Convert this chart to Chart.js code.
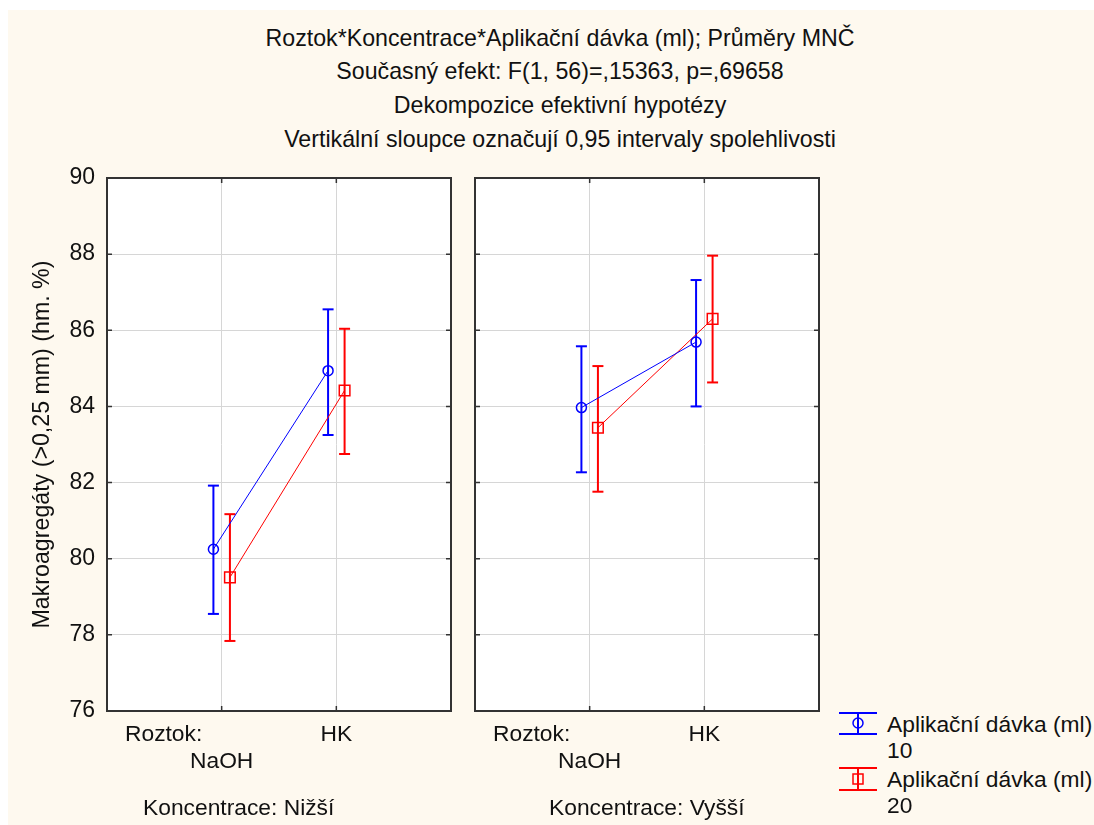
<!DOCTYPE html>
<html>
<head>
<meta charset="utf-8">
<script src="https://cdn.jsdelivr.net/npm/chart.js@4.4.1/dist/chart.umd.min.js"></script>
<style>
  body { margin: 0; width: 1094px; height: 825px; background: #fff; overflow: hidden;
         font-family: "Liberation Sans", Arial, sans-serif; color: #111; }
  #bg { position: absolute; left: 8px; top: 10px; right: 0; bottom: 0; background: #fef9ef; }
  canvas { position: absolute; top: 0; }
  #panel1 { left: 0; }
  #panel2 { left: 460px; }
  .txt { position: absolute; white-space: nowrap; line-height: 1; }
  .title { font-size: 23.2px; left: 0; width: 1120px; text-align: center; }
  .lab { font-size: 22.8px; }
  .leg { position: absolute; left: 838px; }
</style>
</head>
<body>
<div id="bg"></div>

<!-- nadpis -->
<div class="txt title" style="top:27px">Roztok*Koncentrace*Aplikační dávka (ml); Průměry MNČ</div>
<div class="txt title" style="top:60px">Současný efekt: F(1, 56)=,15363, p=,69658</div>
<div class="txt title" style="top:94px">Dekompozice efektivní hypotézy</div>
<div class="txt title" style="top:128px">Vertikální sloupce označují 0,95 intervaly spolehlivosti</div>

<canvas id="panel1" width="460" height="825" style="width:460px;height:825px"></canvas>
<canvas id="panel2" width="375" height="825" style="width:375px;height:825px"></canvas>

<!-- popisky pod osami -->
<div class="txt lab" style="left:125px;top:722px">Roztok:</div>
<div class="txt lab" style="left:493px;top:722px">Roztok:</div>
<div class="txt lab" style="left:143px;top:796px">Koncentrace: Nižší</div>
<div class="txt lab" style="left:549px;top:796px">Koncentrace: Vyšší</div>

<!-- legenda -->
<svg class="leg" style="top:708px" width="44" height="30">
  <line x1="1" y1="5" x2="39" y2="5" stroke="#0000ff" stroke-width="2"/>
  <line x1="1" y1="26" x2="39" y2="26" stroke="#0000ff" stroke-width="2"/>
  <line x1="20" y1="5" x2="20" y2="26" stroke="#0000ff" stroke-width="2"/>
  <circle cx="20" cy="15" r="5" fill="none" stroke="#0000ff" stroke-width="1.5"/>
</svg>
<div class="txt lab" style="left:887px;top:713px">Aplikační dávka (ml)</div>
<div class="txt lab" style="left:887px;top:739px">10</div>
<svg class="leg" style="top:763px" width="44" height="30">
  <line x1="1" y1="5" x2="39" y2="5" stroke="#ff0000" stroke-width="2"/>
  <line x1="1" y1="27" x2="39" y2="27" stroke="#ff0000" stroke-width="2"/>
  <line x1="20" y1="5" x2="20" y2="27" stroke="#ff0000" stroke-width="2"/>
  <rect x="15" y="11" width="10" height="10" fill="none" stroke="#ff0000" stroke-width="1.5"/>
</svg>
<div class="txt lab" style="left:887px;top:768px">Aplikační dávka (ml)</div>
<div class="txt lab" style="left:887px;top:794px">20</div>

<script>
'use strict';

// kategorie (roztok) a rozsah osy y
const categories = ['NaOH', 'HK'];
const yMin = 76;
const yMax = 90;
const yStep = 2;

// Koncentrace: Nižší
const nizsiMean10 = [80.25, 84.94];
const nizsiLow10 = [78.55, 83.25];
const nizsiHigh10 = [81.92, 86.55];
const nizsiMean20 = [79.51, 84.42];
const nizsiLow20 = [77.84, 82.75];
const nizsiHigh20 = [81.17, 86.04];

// Koncentrace: Vyšší
const vyssiMean10 = [83.97, 85.69];
const vyssiLow10 = [82.27, 84.00];
const vyssiHigh10 = [85.58, 87.32];
const vyssiMean20 = [83.44, 86.30];
const vyssiLow20 = [81.76, 84.63];
const vyssiHigh20 = [85.06, 87.96];

const BLUE = '#0000ff';
const RED = '#ff0000';
const SHIFT = 0.072; // posun bodů od mřížky
const FONT = '"Liberation Sans", Arial, sans-serif';

// bílá plocha grafu + rámeček a vnitřní značky
const framePlugin = {
    id: 'frame',
    beforeDraw(chart) {
        const a = chart.chartArea;
        const ctx = chart.ctx;
        ctx.save();
        ctx.fillStyle = '#fff';
        ctx.fillRect(a.left, a.top, a.right - a.left, a.bottom - a.top);
        ctx.restore();
    },
    afterDraw(chart) {
        const a = chart.chartArea;
        const ctx = chart.ctx;
        ctx.save();
        ctx.strokeStyle = '#333';
        ctx.lineWidth = 1.5;
        ctx.beginPath();
        chart.scales.y.ticks.forEach(t => {
            const y = chart.scales.y.getPixelForValue(t.value);
            ctx.moveTo(a.left, y); ctx.lineTo(a.left + 5, y);
            ctx.moveTo(a.right, y); ctx.lineTo(a.right - 5, y);
        });
        chart.scales.x.ticks.forEach(t => {
            const x = chart.scales.x.getPixelForValue(t.value);
            ctx.moveTo(x, a.top); ctx.lineTo(x, a.top + 5);
            ctx.moveTo(x, a.bottom); ctx.lineTo(x, a.bottom - 5);
        });
        ctx.stroke();
        ctx.lineWidth = 2;
        ctx.strokeRect(a.left, a.top, a.right - a.left, a.bottom - a.top);
        ctx.restore();
    }
};

// jedna série: spojnice průměrů + chybové úsečky
function seriesSets(mean, low, high, color, style, radius, shift) {
    const sets = [{
        data: mean.map((v, i) => ({ x: i + 1 + shift, y: v })),
        showLine: true,
        borderColor: color,
        borderWidth: 1,
        pointStyle: style,
        pointRadius: radius,
        pointBorderWidth: 1.5,
        pointBorderColor: color,
        pointBackgroundColor: 'rgba(0,0,0,0)',
        order: 0
    }];
    mean.forEach((v, i) => {
        sets.push({
            data: [{ x: i + 1 + shift, y: low[i] }, { x: i + 1 + shift, y: high[i] }],
            showLine: true,
            borderColor: color,
            borderWidth: 2,
            pointStyle: 'line',
            pointRadius: 5.5,
            pointBorderWidth: 2,
            pointBorderColor: color,
            order: 1
        });
    });
    return sets;
}

function makePanel(canvasId, m10, lo10, hi10, m20, lo20, hi20, withAxis, padding) {
    const xLabels = categories.map((c, i) => i === 0 ? ['', c] : [c]);
    const gridColor = '#d6d6d6';
    return new Chart(document.getElementById(canvasId), {
        type: 'scatter',
        data: {
            datasets: [
                ...seriesSets(m10, lo10, hi10, BLUE, 'circle', 5, -SHIFT),
                ...seriesSets(m20, lo20, hi20, RED, 'rect', 7.5, SHIFT)
            ]
        },
        options: {
            responsive: false,
            animation: false,
            events: [],
            layout: { padding: padding },
            plugins: { legend: { display: false }, tooltip: { enabled: false } },
            scales: {
                x: {
                    type: 'linear',
                    min: 0,
                    max: categories.length + 1,
                    afterBuildTicks: s => { s.ticks = categories.map((c, i) => ({ value: i + 1 })); },
                    afterFit: s => { s.height = 60; },
                    grid: { color: gridColor, drawTicks: false },
                    border: { display: false },
                    ticks: {
                        autoSkip: false,
                        maxRotation: 0,
                        padding: 10,
                        color: '#111',
                        font: { family: FONT, size: 22.8, lineHeight: 1.2 },
                        callback: v => xLabels[v - 1]
                    }
                },
                y: {
                    min: yMin,
                    max: yMax,
                    afterFit: s => { s.width = withAxis ? 78 : 0; },
                    grid: { color: gridColor, drawTicks: false },
                    border: { display: false },
                    ticks: {
                        display: withAxis,
                        stepSize: yStep,
                        padding: 12,
                        color: '#111',
                        font: { family: FONT, size: 23 }
                    },
                    title: {
                        display: withAxis,
                        text: 'Makroagregáty (>0,25 mm) (hm. %)',
                        color: '#111',
                        padding: 0,
                        font: { family: FONT, size: 23.2 }
                    }
                }
            }
        },
        plugins: [framePlugin]
    });
}

makePanel('panel1', nizsiMean10, nizsiLow10, nizsiHigh10, nizsiMean20, nizsiLow20, nizsiHigh20,
    true, { left: 29, right: 9, top: 178, bottom: 54 });
makePanel('panel2', vyssiMean10, vyssiLow10, vyssiHigh10, vyssiMean20, vyssiLow20, vyssiHigh20,
    false, { left: 15, right: 16, top: 178, bottom: 54 });
</script>
</body>
</html>
